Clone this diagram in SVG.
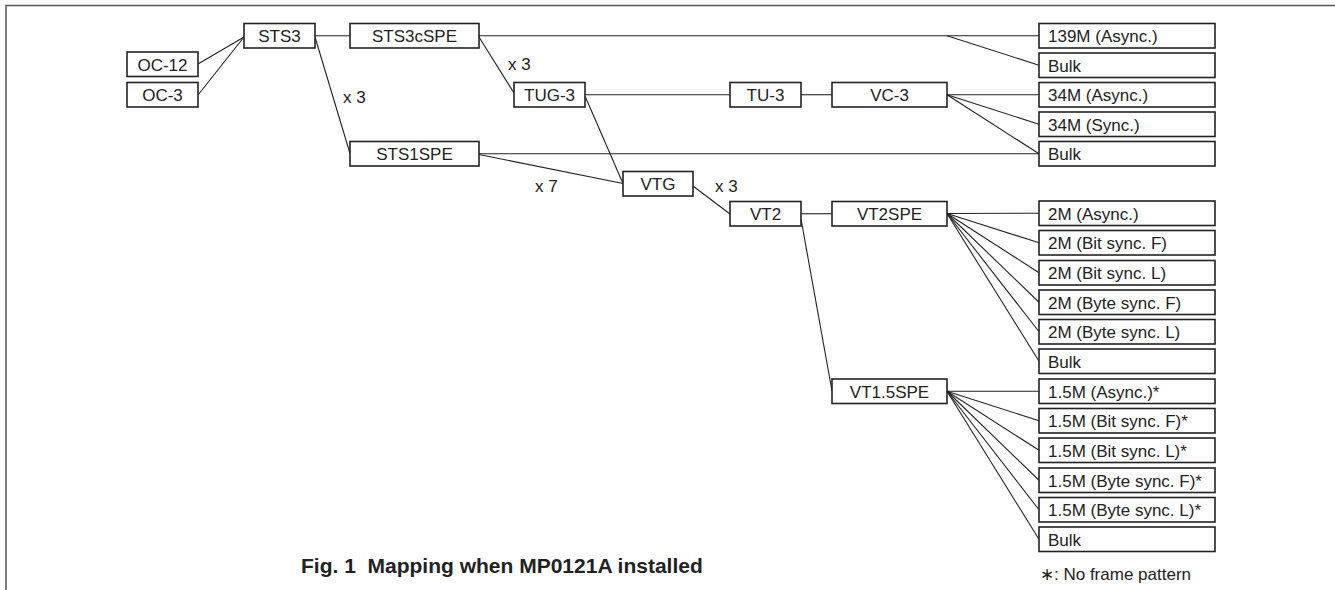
<svg xmlns="http://www.w3.org/2000/svg" width="1335" height="590" viewBox="0 0 1335 590">
<style>
.frame{fill:none;stroke:#555;stroke-width:1.5}
.box{fill:#fff;stroke:#222;stroke-width:1.6}
.ln{fill:none;stroke:#222;stroke-width:1.1}
text{font-family:"Liberation Sans",Arial,sans-serif;font-size:17px;fill:#222}
.c{text-anchor:middle}
.title{font-weight:bold;font-size:21px}
</style>
<rect width="1335" height="590" fill="#fff"/>
<path class="frame" d="M6,590 V5.5 H1335"/>
<g id="connectors">
<line class="ln" x1="198" y1="64" x2="244" y2="37"/>
<line class="ln" x1="198" y1="95" x2="244" y2="37"/>
<line class="ln" x1="315" y1="35.75" x2="350" y2="35.75"/>
<line class="ln" x1="315" y1="37" x2="350" y2="153.5"/>
<line class="ln" x1="479" y1="35.75" x2="1039" y2="35.75"/>
<line class="ln" x1="947" y1="35.75" x2="1039" y2="65.25"/>
<line class="ln" x1="479" y1="37" x2="514" y2="93"/>
<line class="ln" x1="585" y1="94.75" x2="730" y2="94.75"/>
<line class="ln" x1="801" y1="94.75" x2="832" y2="94.75"/>
<line class="ln" x1="947" y1="94.75" x2="1039" y2="94.75"/>
<line class="ln" x1="947" y1="94.75" x2="1039" y2="124.25"/>
<line class="ln" x1="947" y1="94.75" x2="1039" y2="153.75"/>
<line class="ln" x1="479" y1="153.75" x2="1039" y2="153.75"/>
<line class="ln" x1="479" y1="154.5" x2="623" y2="183.5"/>
<line class="ln" x1="585" y1="96" x2="623" y2="183.5"/>
<line class="ln" x1="693" y1="186" x2="730" y2="214"/>
<line class="ln" x1="801" y1="213.75" x2="832" y2="213.75"/>
<line class="ln" x1="801" y1="219" x2="832" y2="391"/>
<line class="ln" x1="947" y1="213.5" x2="1039" y2="213.25"/>
<line class="ln" x1="947" y1="213.5" x2="1039" y2="242.75"/>
<line class="ln" x1="947" y1="213.5" x2="1039" y2="272.75"/>
<line class="ln" x1="947" y1="213.5" x2="1039" y2="302.25"/>
<line class="ln" x1="947" y1="213.5" x2="1039" y2="331.75"/>
<line class="ln" x1="947" y1="213.5" x2="1039" y2="361.25"/>
<line class="ln" x1="947" y1="391.25" x2="1039" y2="391.25"/>
<line class="ln" x1="947" y1="391.25" x2="1039" y2="420.75"/>
<line class="ln" x1="947" y1="391.25" x2="1039" y2="450.25"/>
<line class="ln" x1="947" y1="391.25" x2="1039" y2="480.25"/>
<line class="ln" x1="947" y1="391.25" x2="1039" y2="509.75"/>
<line class="ln" x1="947" y1="391.25" x2="1039" y2="539.25"/>
</g>
<g id="labels">
<text x="343" y="103">x 3</text>
<text x="508" y="69.5">x 3</text>
<text x="535" y="192">x 7</text>
<text x="715" y="191.5">x 3</text>
</g>
<g id="oc12"><rect class="box" x="127" y="52" width="71" height="24.5"/><text class="c" x="162.5" y="70.5">OC-12</text></g>
<g id="oc3"><rect class="box" x="127" y="82.5" width="71" height="24.5"/><text class="c" x="162.5" y="101">OC-3</text></g>
<g id="sts3"><rect class="box" x="244" y="23.5" width="71" height="24.5"/><text class="c" x="279.5" y="42">STS3</text></g>
<g id="sts3cspe"><rect class="box" x="350" y="23.5" width="129" height="24.5"/><text class="c" x="414.5" y="42">STS3cSPE</text></g>
<g id="sts1spe"><rect class="box" x="350" y="141.5" width="129" height="24.5"/><text class="c" x="414.5" y="160">STS1SPE</text></g>
<g id="tug3"><rect class="box" x="514" y="82.5" width="71" height="24.5"/><text class="c" x="549.5" y="101">TUG-3</text></g>
<g id="tu3"><rect class="box" x="730" y="82.5" width="71" height="24.5"/><text class="c" x="765.5" y="101">TU-3</text></g>
<g id="vc3"><rect class="box" x="832" y="82.5" width="115" height="24.5"/><text class="c" x="889.5" y="101">VC-3</text></g>
<g id="vtg"><rect class="box" x="623" y="171.5" width="70" height="24.5"/><text class="c" x="658" y="190">VTG</text></g>
<g id="vt2"><rect class="box" x="730" y="201.5" width="71" height="24.5"/><text class="c" x="765.5" y="220">VT2</text></g>
<g id="vt2spe"><rect class="box" x="832" y="201.5" width="115" height="24.5"/><text class="c" x="889.5" y="220">VT2SPE</text></g>
<g id="vt15spe"><rect class="box" x="832" y="379" width="115" height="24.5"/><text class="c" x="889.5" y="397.5">VT1.5SPE</text></g>
<g id="o139m"><rect class="box" x="1039" y="23.5" width="176" height="24.5"/><text x="1048" y="42">139M (Async.)</text></g>
<g id="obulk1"><rect class="box" x="1039" y="53" width="176" height="24.5"/><text x="1048" y="71.5">Bulk</text></g>
<g id="o34ma"><rect class="box" x="1039" y="82.5" width="176" height="24.5"/><text x="1048" y="101">34M (Async.)</text></g>
<g id="o34ms"><rect class="box" x="1039" y="112" width="176" height="24.5"/><text x="1048" y="130.5">34M (Sync.)</text></g>
<g id="obulk2"><rect class="box" x="1039" y="141.5" width="176" height="24.5"/><text x="1048" y="160">Bulk</text></g>
<g id="o2ma"><rect class="box" x="1039" y="201" width="176" height="24.5"/><text x="1048" y="219.5">2M (Async.)</text></g>
<g id="o2mbf"><rect class="box" x="1039" y="230.5" width="176" height="24.5"/><text x="1048" y="249">2M (Bit sync. F)</text></g>
<g id="o2mbl"><rect class="box" x="1039" y="260.5" width="176" height="24.5"/><text x="1048" y="279">2M (Bit sync. L)</text></g>
<g id="o2myf"><rect class="box" x="1039" y="290" width="176" height="24.5"/><text x="1048" y="308.5">2M (Byte sync. F)</text></g>
<g id="o2myl"><rect class="box" x="1039" y="319.5" width="176" height="24.5"/><text x="1048" y="338">2M (Byte sync. L)</text></g>
<g id="obulk3"><rect class="box" x="1039" y="349" width="176" height="24.5"/><text x="1048" y="367.5">Bulk</text></g>
<g id="o15a"><rect class="box" x="1039" y="379" width="176" height="24.5"/><text x="1048" y="397.5">1.5M (Async.)*</text></g>
<g id="o15bf"><rect class="box" x="1039" y="408.5" width="176" height="24.5"/><text x="1048" y="427">1.5M (Bit sync. F)*</text></g>
<g id="o15bl"><rect class="box" x="1039" y="438" width="176" height="24.5"/><text x="1048" y="456.5">1.5M (Bit sync. L)*</text></g>
<g id="o15yf"><rect class="box" x="1039" y="468" width="176" height="24.5"/><text x="1048" y="486.5">1.5M (Byte sync. F)*</text></g>
<g id="o15yl"><rect class="box" x="1039" y="497.5" width="176" height="24.5"/><text x="1048" y="516">1.5M (Byte sync. L)*</text></g>
<g id="obulk4"><rect class="box" x="1039" y="527" width="176" height="24.5"/><text x="1048" y="545.5">Bulk</text></g>
<text x="1040" y="580" font-size="15">∗: No frame pattern</text>
<text class="title" x="301" y="573" xml:space="preserve">Fig. 1  Mapping when MP0121A installed</text>
</svg>
